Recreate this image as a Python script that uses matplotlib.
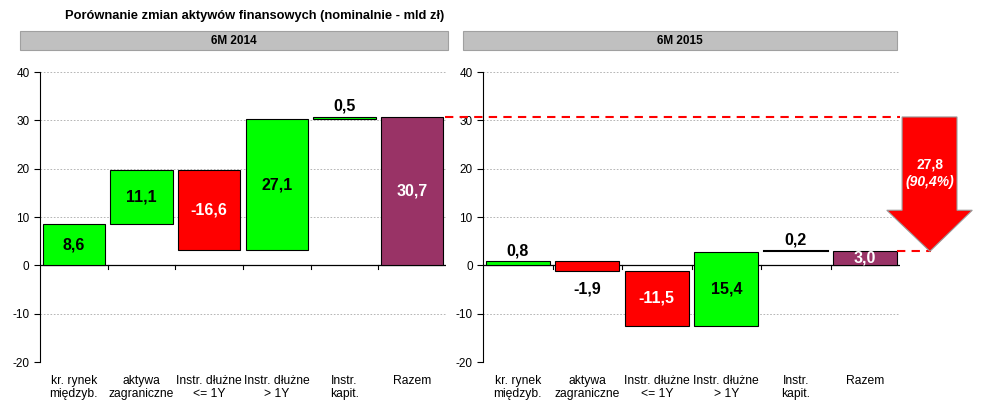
import numpy as np
import matplotlib.pyplot as plt
from matplotlib.patches import Rectangle, Polygon

plt.rcParams['font.family'] = ['Liberation Sans', 'DejaVu Sans']
plt.rcParams['axes.unicode_minus'] = False

categories = ["kr. rynek\nmiędzyb.", "aktywa\nzagraniczne", "Instr. dłużne\n<= 1Y",
              "Instr. dłużne\n> 1Y", "Instr.\nkapit.", "Razem"]
changes_2014 = [8.6, 11.1, -16.6, 27.1, 0.5]
changes_2015 = [0.8, -1.9, -11.5, 15.4, 0.2]
panel_titles = ["6M 2014", "6M 2015"]
diff_label = "27,8\n(90,4%)"

GREEN = "#00FF00"
RED = "#FF0000"
PURPLE = "#993366"


def fmt(v):
    return f"{v:.1f}".replace(".", ",")


def waterfall(ax, changes, label_pos, thin_black=False):
    changes = np.array(changes)
    ends = np.cumsum(changes)
    starts = ends - changes
    total = ends[-1]
    x = np.arange(len(changes) + 1)
    w = 0.92
    for i, c in enumerate(changes):
        lo, hi = min(starts[i], ends[i]), max(starts[i], ends[i])
        col = GREEN if c > 0 else RED
        if thin_black and i == len(changes) - 1:
            ax.plot([x[i] - w / 2, x[i] + w / 2], [ends[i], ends[i]], color="black", lw=1.5)
        else:
            ax.bar(x[i], hi - lo, bottom=lo, width=w, color=col, edgecolor="black", lw=0.8, zorder=3)
        pos = label_pos[i]
        if pos == "in":
            tc = "white" if c < 0 else "black"
            ax.text(x[i], (lo + hi) / 2, fmt(c), ha="center", va="center", fontsize=11.5,
                    fontweight="bold", color=tc, zorder=4)
        elif pos == "above":
            ax.text(x[i], hi + 0.7, fmt(c), ha="center", va="bottom", fontsize=11.5,
                    fontweight="bold", zorder=4)
        else:
            ax.text(x[i], lo - 2.2, fmt(c), ha="center", va="top", fontsize=11.5,
                    fontweight="bold", zorder=4)
    ax.bar(x[-1], total, width=w, color=PURPLE, edgecolor="black", lw=0.8, zorder=3)
    ax.text(x[-1], total / 2, fmt(total), ha="center", va="center", fontsize=11.5,
            fontweight="bold", color="white", zorder=4)

    ax.set_xlim(-0.5, len(changes) + 0.5)
    ax.set_ylim(-20, 40)
    ax.set_yticks(range(-20, 41, 10))
    ax.yaxis.grid(True, ls=(0, (2, 2)), color="#AAAAAA", lw=0.6)
    ax.set_axisbelow(True)
    for s in ["top", "right", "bottom"]:
        ax.spines[s].set_visible(False)
    ax.spines["left"].set_linewidth(0.8)
    ax.axhline(0, color="black", lw=0.9, zorder=2)
    for b in np.arange(0.5, len(changes) + 0.5, 1.0):
        ax.plot([b, b], [0, -0.8], color="black", lw=0.8, zorder=2)
    ax.tick_params(axis="y", labelsize=8.5, length=4, width=0.8)
    ax.set_xticks(x)
    ax.set_xticklabels(categories, fontsize=8.7)
    ax.tick_params(axis="x", length=0, pad=9)
    return total


fig = plt.figure(figsize=(9.82, 4.03), dpi=100)
ax1 = fig.add_axes([0.0407, 0.1017, 0.4134, 0.7196])
ax2 = fig.add_axes([0.4919, 0.1017, 0.4246, 0.7196])

t14 = waterfall(ax1, changes_2014, ["in", "in", "in", "in", "above"])
t15 = waterfall(ax2, changes_2015, ["above", "below", "in", "in", "above"], thin_black=True)

# header boxes
for (x0, x1), title in zip([(20, 448), (463, 897)], panel_titles):
    fig.patches.append(Rectangle((x0 / 982, 1 - 50 / 403), (x1 - x0) / 982, 19 / 403,
                                 transform=fig.transFigure, facecolor="#C0C0C0",
                                 edgecolor="#A0A0A0", lw=0.8))
    fig.text((x0 + x1) / 2 / 982, 1 - 40.5 / 403, title, ha="center", va="center",
             fontsize=8.5, fontweight="bold")

fig.text(65 / 982, 1 - 16 / 403, "Porównanie zmian aktywów finansowych (nominalnie - mld zł)",
         ha="left", va="center", fontsize=9.3, fontweight="bold")

# red dashed reference lines and arrow
ax2.plot([-1.05, 5.5], [t14, t14], color="red", ls=(0, (4, 3)), lw=1.5, clip_on=False, zorder=5)
ax2.plot([5.45, 5.95], [t15, t15], color="red", ls=(0, (4, 3)), lw=1.5, clip_on=False, zorder=5)

head_y = 11.4
arrow = Polygon([(5.53, t14), (6.32, t14), (6.32, head_y), (6.54, head_y),
                 (5.93, t15 - 0.1), (5.31, head_y), (5.53, head_y)],
                closed=True, facecolor="red", edgecolor="#999999", lw=0.8,
                clip_on=False, zorder=6)
ax2.add_patch(arrow)
ax2.text(5.93, 20.8, diff_label.split("\n")[0], ha="center", va="center", color="white",
         fontsize=10, fontweight="bold", clip_on=False, zorder=7)
ax2.text(5.93, 17.2, diff_label.split("\n")[1], ha="center", va="center", color="white",
         fontsize=10, fontweight="bold", fontstyle="italic", clip_on=False, zorder=7)

fig.savefig("out.png", dpi=100)
